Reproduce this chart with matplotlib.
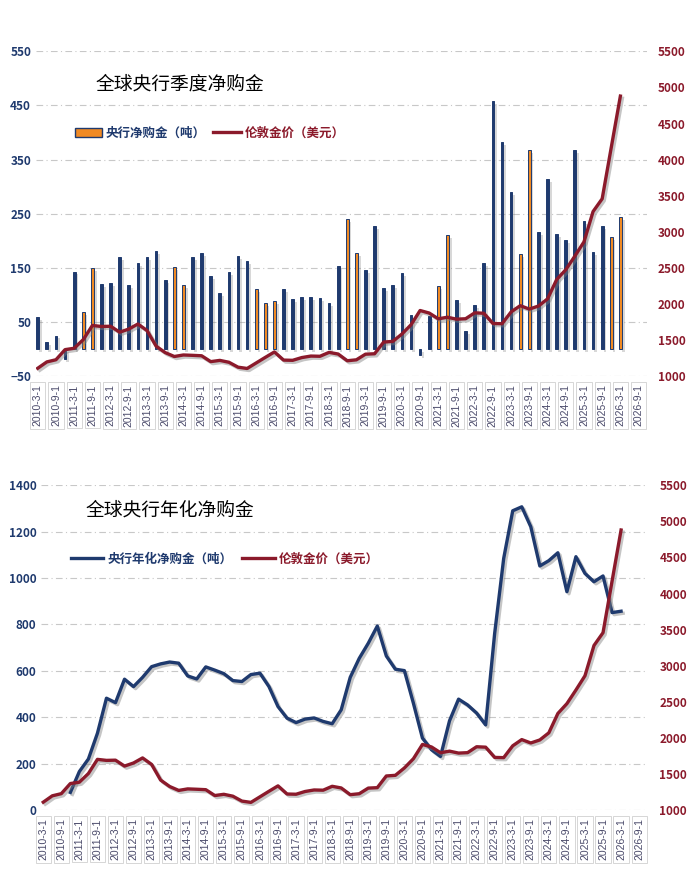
import numpy as np
import matplotlib
matplotlib.use('Agg')
import matplotlib.pyplot as plt
import matplotlib.patheffects as pe
from matplotlib.lines import Line2D
from matplotlib.patches import Patch

plt.rcParams['font.family'] = ['Noto Sans CJK SC', 'DejaVu Sans']

# 季度: 2010-3-1 ... 2026-9-1
quarters = [f"{y}-{m}-1" for y in range(2010, 2027) for m in (3, 6, 9, 12)][:67]

# 央行季度净购金（吨）, 2010Q1 - 2026Q1
net_buy = [59, 13.5, 25, -19, 143, 68, 150, 120, 122, 170,
           118, 159, 170, 181, 128, 151, 118, 170, 177, 135,
           103, 142, 172, 162, 111, 85, 89, 111, 92, 96,
           96, 94, 85, 153, 240, 177, 146, 227, 113, 118,
           140, 63, -11, 61, 116, 210, 90, 33, 81, 159,
           458, 382, 290, 175, 367, 216, 314, 212, 201, 367,
           236, 179, 227, 207, 244]

# 伦敦金价（美元）
gold = [1109, 1197, 1227, 1367, 1386, 1506, 1702, 1688, 1691, 1609,
        1652, 1722, 1632, 1415, 1326, 1272, 1293, 1288, 1282, 1201,
        1218, 1192, 1124, 1106, 1183, 1260, 1335, 1222, 1219, 1257,
        1278, 1275, 1329, 1306, 1213, 1226, 1304, 1310, 1472, 1481,
        1583, 1711, 1909, 1874, 1794, 1816, 1789, 1795, 1877, 1871,
        1729, 1726, 1890, 1976, 1929, 1971, 2070, 2338, 2474, 2663,
        2860, 3280, 3457, 4170, 4880]

# 央行年化净购金（吨）, 从2010-12-1开始
annual = [76, 166, 220, 331, 482, 463, 564, 532, 572, 618,
          630, 638, 633, 578, 565, 617, 603, 588, 558, 554,
          584, 590, 532, 446, 396, 377, 392, 397, 382, 372,
          432, 572, 654, 719, 793, 664, 607, 601, 460, 310,
          260, 231, 385, 478, 453, 418, 367, 762, 1085, 1290,
          1307, 1221, 1052, 1075, 1109, 941, 1092, 1020, 984, 1009,
          851, 857]
annual_start = 3

# 颜色
NAVY = '#1f3a6e'
MAROON = '#8b1a2b'
ORANGE = '#f08a24'
GRID = '#c8c8c8'
orange_bars = {5, 6, 15, 16, 24, 25, 26, 34, 35, 44, 45, 53, 54, 63, 64}

shadow_line = [pe.SimpleLineShadow(offset=(1.5, -1.5), shadow_color='gray', alpha=0.45), pe.Normal()]


def style_axes(ax, ax2, yticks, xmax):
    ax.set_xlim(-0.2, xmax)
    ax.set_yticks(yticks)
    ax.set_ylim(yticks[0], yticks[-1])
    ax.grid(axis='y', color=GRID, linestyle=(0, (6, 3, 1, 3)), linewidth=0.8)
    ax.set_axisbelow(True)
    for a in (ax, ax2):
        for s in a.spines.values():
            s.set_visible(False)
        a.tick_params(length=0)
    for t in ax.get_yticklabels():
        t.set_color(NAVY)
        t.set_fontweight('bold')
        t.set_fontsize(8.5)
    ax2.set_ylim(1000, 5500)
    ax2.set_yticks(range(1000, 5501, 500))
    for t in ax2.get_yticklabels():
        t.set_color(MAROON)
        t.set_fontweight('bold')
        t.set_fontsize(8.5)
    ax2.tick_params(axis='y', pad=8)
    ax.set_xticks(range(0, len(quarters), 2))
    ax.set_xticklabels(quarters[::2], rotation=90, fontsize=7.5, color='#4a4a6a',
                       family=['Liberation Sans', 'DejaVu Sans'])
    for t in ax.get_xticklabels():
        t.set_bbox(dict(boxstyle='square,pad=0.25', fc='white', ec='#d0d0d0', lw=0.6))
    ax.tick_params(axis='x', pad=6)


fig = plt.figure(figsize=(6.91, 8.85), dpi=100)

# ---------- 上图: 季度净购金 ----------
ax1 = fig.add_axes([0.052, 0.575, 0.884, 0.367])
ax1b = ax1.twinx()
x = np.arange(len(net_buy))
colors = [ORANGE if i in orange_bars else NAVY for i in x]
ax1.bar(x, net_buy, width=0.3, color=colors, edgecolor=NAVY, linewidth=0.7,
        path_effects=[pe.withSimplePatchShadow(offset=(2, -2), shadow_rgbFace='gray', alpha=0.3)])
ax1b.plot(x, gold, color=MAROON, lw=2.4, solid_joinstyle='round', path_effects=shadow_line)
style_axes(ax1, ax1b, list(range(-50, 551, 100)), 66.9)

ax1.text(0.236, 0.90, '全球央行季度净购金', transform=ax1.transAxes, ha='center', va='center',
         fontsize=13.5, fontweight='medium', color='black')
h1 = [Patch(facecolor=ORANGE, edgecolor=NAVY, linewidth=1.0),
      Line2D([0], [0], color=MAROON, lw=2.4)]
leg1 = ax1.legend(h1, ['央行净购金（吨）', '伦敦金价（美元）'], loc='center left',
                  bbox_to_anchor=(0.045, 0.748), ncol=2, frameon=False,
                  prop={'size': 9, 'weight': 'bold'}, handlelength=2.2,
                  handletextpad=0.3, columnspacing=0.6)
leg1.get_texts()[0].set_color(NAVY)
leg1.get_texts()[1].set_color(MAROON)

# ---------- 下图: 年化净购金 ----------
ax2 = fig.add_axes([0.060, 0.0847, 0.878, 0.367])
ax2b = ax2.twinx()
xa = np.arange(annual_start, annual_start + len(annual))
ax2.plot(xa, annual, color=NAVY, lw=2.4, solid_joinstyle='round', path_effects=shadow_line)
ax2b.plot(x, gold, color=MAROON, lw=2.4, solid_joinstyle='round', path_effects=shadow_line)
style_axes(ax2, ax2b, list(range(0, 1401, 200)), 67.0)

ax2.text(0.212, 0.923, '全球央行年化净购金', transform=ax2.transAxes, ha='center', va='center',
         fontsize=13.5, fontweight='medium', color='black')
h2 = [Line2D([0], [0], color=NAVY, lw=2.4), Line2D([0], [0], color=MAROON, lw=2.4)]
leg2 = ax2.legend(h2, ['央行年化净购金（吨）', '伦敦金价（美元）'], loc='center left',
                  bbox_to_anchor=(0.03, 0.772), ncol=2, frameon=False,
                  prop={'size': 9, 'weight': 'bold'}, handlelength=2.6,
                  handletextpad=0.3, columnspacing=0.8)
leg2.get_texts()[0].set_color(NAVY)
leg2.get_texts()[1].set_color(MAROON)

fig.savefig('out.png', dpi=100)
